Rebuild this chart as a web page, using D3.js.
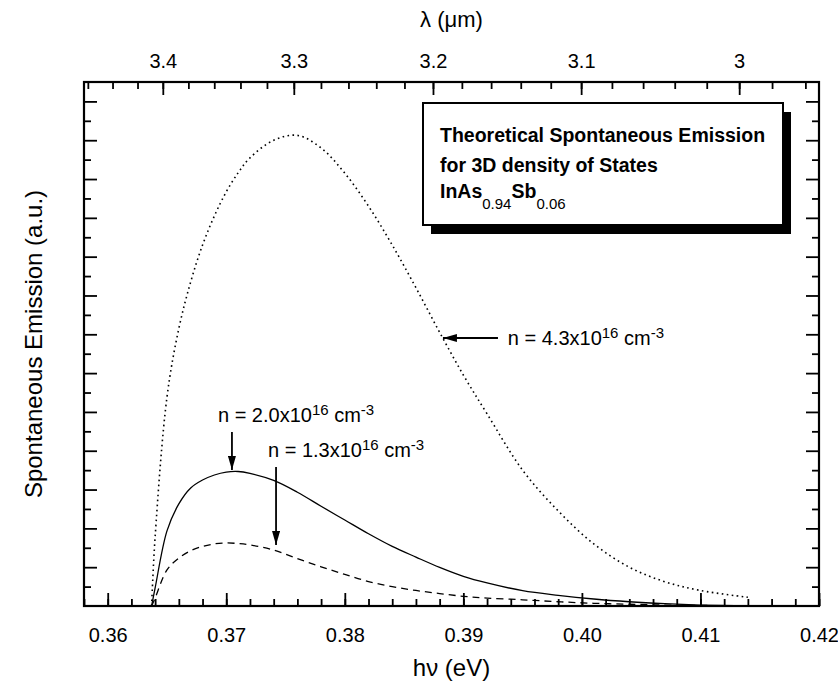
<!DOCTYPE html>
<html>
<head>
<meta charset="utf-8">
<script src="https://cdn.jsdelivr.net/npm/d3@7"></script>
<style>
  body { margin: 0; background: #fff; }
  text { font-family: "Liberation Sans", Arial, sans-serif; fill: #000; }
</style>
</head>
<body>
<script>
// photon energy (eV) and spontaneous emission (a.u.)
var energy = [0.3637, 0.364, 0.365, 0.366, 0.367, 0.368, 0.369, 0.370, 0.371, 0.372,
              0.374, 0.376, 0.378, 0.380, 0.382, 0.384, 0.386, 0.388, 0.390, 0.392,
              0.395, 0.398, 0.401, 0.404, 0.407, 0.410, 0.414];
var emis43 = [0, 3.56, 10.77, 14.30, 16.70, 18.60, 20.10, 21.34, 22.32, 23.09,
              24.00, 24.25, 23.60, 22.30, 20.60, 18.60, 16.40, 14.10, 11.90, 9.90,
              7.00, 4.90, 3.20, 2.00, 1.25, 0.80, 0.45];
var emis20 = [0, 0.93, 3.87, 5.26, 6.08, 6.49, 6.75, 6.90, 6.93, 6.83,
              6.47, 5.86, 5.14, 4.43, 3.72, 3.07, 2.52, 1.99, 1.53, 1.19,
              0.79, 0.55, 0.36, 0.22, 0.12, 0.05, 0];
var emis13 = [0, 0.41, 1.86, 2.47, 2.85, 3.07, 3.20, 3.25, 3.22, 3.15,
              2.88, 2.44, 2.02, 1.63, 1.26, 1.00, 0.80, 0.64, 0.50, 0.41,
              0.32, 0.22, 0.14, 0.09, 0.05, 0.03, 0];

var energyTicks = [0.36, 0.37, 0.38, 0.39, 0.40, 0.41, 0.42];
var energyLabels = ["0.36", "0.37", "0.38", "0.39", "0.40", "0.41", "0.42"];
var lambdaTicks = [3.4, 3.3, 3.2, 3.1, 3.0];
var lambdaLabels = ["3.4", "3.3", "3.2", "3.1", "3"];

// n labels: arrow tail/tip and text anchor, in data units
var notes = [
  {lead: "n = 4.3x10", tx: 0.39375, ty: 13.45, ax: [0.39292, 0.38828], ay: [13.81, 13.81]},
  {lead: "n = 2.0x10", tx: 0.36930, ty: 9.48,  ax: [0.37048, 0.37048], ay: [8.97, 7.01]},
  {lead: "n = 1.3x10", tx: 0.37352, ty: 7.68,  ax: [0.37420, 0.37420], ay: [7.16, 3.14]}
];

var HC = 1.2398; // eV*um

var W = 838, H = 689;
var margin = {top: 82, right: 19, bottom: 83, left: 84},
    width = W - margin.left - margin.right,
    height = H - margin.top - margin.bottom;

var svg = d3.select("body").append("svg")
    .attr("width", W)
    .attr("height", H);

var defs = svg.append("defs");
defs.append("marker")
    .attr("id", "head")
    .attr("viewBox", "0 0 14 8")
    .attr("refX", 14).attr("refY", 4)
    .attr("markerUnits", "userSpaceOnUse")
    .attr("markerWidth", 14).attr("markerHeight", 8)
    .attr("orient", "auto")
  .append("path")
    .attr("d", "M0,0L14,4L0,8Z")
    .attr("fill", "#000");

var g = svg.append("g")
    .attr("transform", "translate(" + margin.left + "," + margin.top + ")");

var x = d3.scaleLinear().domain([0.358, 0.42]).range([0, width]);
var y = d3.scaleLinear().domain([0, 27]).range([height, 0]);

// wavelength axis is reciprocal in energy
function xl(l) { return x(HC / l); }
xl.copy = function() { return xl; };
xl.range = function() { return x.range(); };
xl.domain = function() { return [HC / 0.358, HC / 0.42]; };

function styleAxis(sel) {
  sel.select(".domain").remove();
  sel.selectAll(".tick line").attr("stroke", "#000").attr("stroke-width", 1.8);
  sel.selectAll("text").attr("font-size", 20).attr("font-family", "Liberation Sans, Arial, sans-serif");
}

// bottom energy axis
g.append("g")
    .attr("transform", "translate(0," + height + ")")
    .call(d3.axisBottom(x).tickValues(d3.range(0.358, 0.4201, 0.002)).tickSize(-7).tickFormat(""))
    .call(styleAxis);
g.append("g")
    .attr("transform", "translate(0," + height + ")")
    .call(d3.axisBottom(x).tickValues(energyTicks).tickSize(-13).tickPadding(22)
      .tickFormat(function(d, i) { return energyLabels[i]; }))
    .call(styleAxis);

// top wavelength axis
g.append("g")
    .call(d3.axisTop(xl).tickValues(d3.range(3.46, 2.95, -0.02)).tickSize(-7).tickFormat(""))
    .call(styleAxis);
g.append("g")
    .call(d3.axisTop(xl).tickValues(lambdaTicks).tickSize(-13).tickPadding(14)
      .tickFormat(function(d, i) { return lambdaLabels[i]; }))
    .call(styleAxis);

// left / right unlabeled ticks
[[d3.axisLeft, 0], [d3.axisRight, width]].forEach(function(a) {
  g.append("g")
      .attr("transform", "translate(" + a[1] + ",0)")
      .call(a[0](y).tickValues(d3.range(1, 27, 2)).tickSize(-7).tickFormat(""))
      .call(styleAxis);
  g.append("g")
      .attr("transform", "translate(" + a[1] + ",0)")
      .call(a[0](y).tickValues(d3.range(2, 27, 2)).tickSize(-13).tickFormat(""))
      .call(styleAxis);
});

// frame
g.append("rect")
    .attr("width", width).attr("height", height)
    .attr("fill", "none").attr("stroke", "#000").attr("stroke-width", 2.2);

// curves
var line = d3.line()
    .x(function(d) { return x(d[0]); })
    .y(function(d) { return y(d[1]); })
    .curve(d3.curveCatmullRom.alpha(0.5));

var series = [
  {vals: emis43, dash: "1.6,3.4", w: 1.6},
  {vals: emis20, dash: null, w: 1.3},
  {vals: emis13, dash: "7,5", w: 1.3}
];
series.forEach(function(s) {
  g.append("path")
      .datum(energy.map(function(e, i) { return [e, s.vals[i]]; }))
      .attr("d", line)
      .attr("fill", "none")
      .attr("stroke", "#000")
      .attr("stroke-width", s.w)
      .attr("stroke-dasharray", s.dash);
});

// annotations
notes.forEach(function(n) {
  g.append("line")
      .attr("x1", x(n.ax[0])).attr("y1", y(n.ay[0]))
      .attr("x2", x(n.ax[1])).attr("y2", y(n.ay[1]))
      .attr("stroke", "#000").attr("stroke-width", 1.8)
      .attr("marker-end", "url(#head)");
  var t = g.append("text")
      .attr("x", x(n.tx)).attr("y", y(n.ty))
      .attr("font-size", 20);
  t.append("tspan").text(n.lead);
  t.append("tspan").attr("dy", -7).attr("font-size", 15).text("16");
  t.append("tspan").attr("dy", 7).text(" cm");
  t.append("tspan").attr("dy", -7).attr("font-size", 15).text("-3");
});

// legend box with drop shadow
var box = svg.append("g").attr("transform", "translate(423,103)");
box.append("rect").attr("x", 8).attr("y", 9).attr("width", 360).attr("height", 122).attr("fill", "#000");
box.append("rect").attr("width", 360).attr("height", 122)
    .attr("fill", "#fff").attr("stroke", "#000").attr("stroke-width", 2);
var lg = box.append("g").attr("font-size", 19.5).attr("font-weight", "bold");
lg.append("text").attr("x", 17).attr("y", 39).text("Theoretical Spontaneous Emission");
lg.append("text").attr("x", 17).attr("y", 69).text("for 3D density of States");
var f = lg.append("text").attr("x", 17).attr("y", 95);
f.append("tspan").text("InAs");
f.append("tspan").attr("dy", 11).attr("font-size", 15).attr("font-weight", "normal").text("0.94");
f.append("tspan").attr("dy", -11).text("Sb");
f.append("tspan").attr("dy", 11).attr("font-size", 15).attr("font-weight", "normal").text("0.06");

// axis titles
svg.append("text")
    .attr("x", margin.left + width / 2).attr("y", 676)
    .attr("text-anchor", "middle").attr("font-size", 24)
    .text("h\u03bd (eV)");
svg.append("text")
    .attr("x", margin.left + width / 2).attr("y", 27)
    .attr("text-anchor", "middle").attr("font-size", 22)
    .text("\u03bb (\u03bcm)");
svg.append("text")
    .attr("transform", "translate(42," + (margin.top + height / 2) + ") rotate(-90)")
    .attr("text-anchor", "middle").attr("font-size", 24)
    .text("Spontaneous Emission (a.u.)");
</script>
</body>
</html>
